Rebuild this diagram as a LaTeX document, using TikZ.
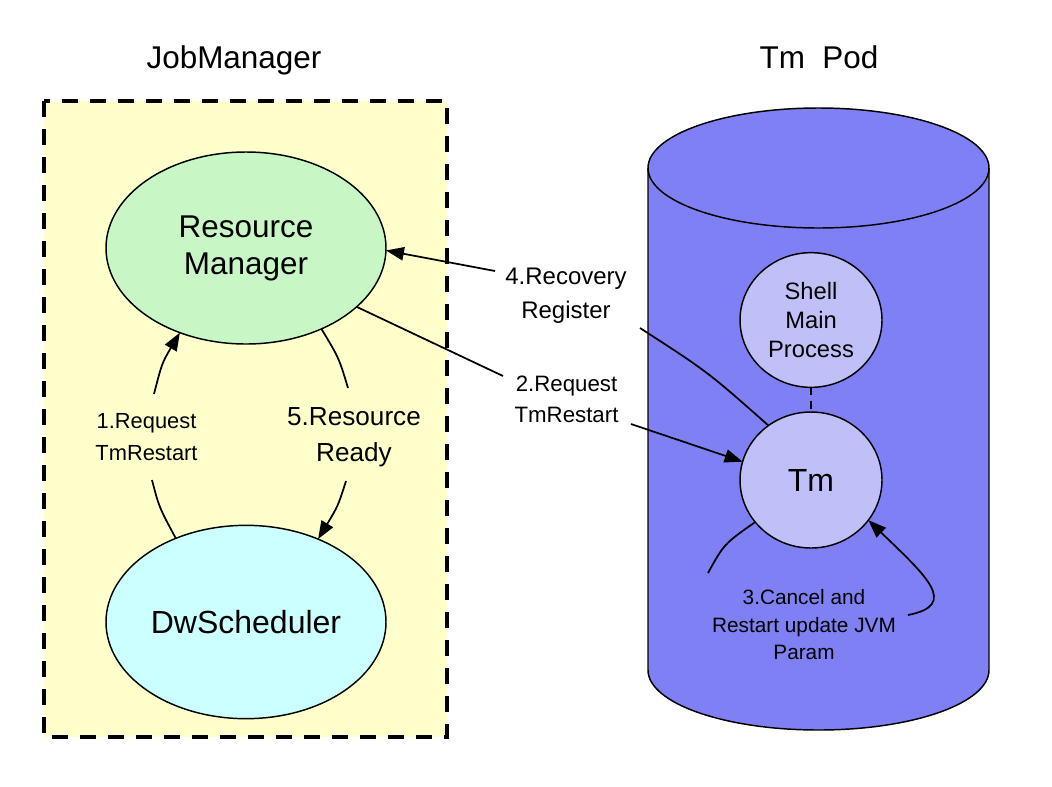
\documentclass[tikz,border=0pt]{standalone}
\usepackage{fontspec}
\setmainfont{Liberation Sans}
\usetikzlibrary{arrows.meta,shapes.geometric}
\definecolor{jmbg}{HTML}{FFFFCC}
\definecolor{rmfill}{HTML}{C8F7C5}
\definecolor{dwfill}{HTML}{CCFFFF}
\definecolor{podfill}{HTML}{8080F5}
\definecolor{procfill}{HTML}{C0C0F8}
\begin{document}
\begin{tikzpicture}[x=0.75pt,y=-0.75pt,
  every node/.style={inner sep=0pt, outer sep=0pt},
  fs/.style 2 args={font=\fontsize{#1pt}{#2pt}\selectfont},
  oval/.style={ellipse, draw, line width=1.1pt},
  link/.style={line width=1.3pt},
  arr/.style={link, -{Triangle[length=13.5pt,width=10pt]}},
  lbl/.style={align=center}]
\useasboundingbox (0,0) rectangle (1052,786);
\fill[white] (0,0) rectangle (1052,786);

% JobManager frame
\draw[fill=jmbg, line width=2.6pt, dash pattern=on 12pt off 9pt] (44,101) rectangle (447,737);
\node[fs={23.6}{28}, anchor=base] (jmt) at (234,68) {JobManager};

% Tm Pod cylinder
\filldraw[fill=podfill, line width=1.1pt] (648,168) -- (648,670)
  arc[start angle=180, end angle=360, x radius=127.875pt, y radius=45pt]
  -- (989,168)
  arc[start angle=0, end angle=180, x radius=127.875pt, y radius=45pt] -- cycle;
\draw[line width=1.1pt] (648,168) arc[start angle=180, end angle=360, x radius=127.875pt, y radius=45pt];
\node[fs={23.6}{28}, anchor=base] (podt) at (819,68) {Tm\ \ Pod};

% nodes
\node[oval, fill=rmfill, minimum width=210pt, minimum height=144pt, fs={23.6}{27.75}, align=center] (rm) at (246,248) {Resource\\Manager};
\node[oval, fill=dwfill, minimum width=210pt, minimum height=145pt, fs={24}{28}] (dw) at (246,622) {DwScheduler};
\node[oval, fill=procfill, minimum width=106.5pt, minimum height=101pt, fs={17.8}{21.75}, align=center] (shell) at (811,320) {Shell\\Main\\Process};
\node[oval, fill=procfill, minimum width=106.5pt, minimum height=102pt, fs={24}{28}] (tm) at (811,480) {Tm};

\draw[line width=1pt, dash pattern=on 6pt off 4pt] (shell) -- (tm);

% labels
\node[lbl, fs={18}{25.5}] (l4) at (566,296) {4.Recovery\\Register};
\node[lbl, fs={16.7}{23.25}] (l2) at (566.5,399.5) {2.Request\\TmRestart};
\node[lbl, fs={16.4}{24}] (l1) at (146.5,437) {1.Request\\TmRestart};
\node[lbl, fs={19.6}{27}] (l5) at (354,437) {5.Resource\\Ready};
\node[lbl, fs={15.6}{20.6}] (l3) at (804,625) {3.Cancel and\\Restart update JVM\\Param};

% connector ends beside the labels
\coordinate (e1a) at (152,480); \coordinate (e1b) at (154,394);
\coordinate (e5a) at (348,388); \coordinate (e5b) at (346,481);
\coordinate (e2a) at (503,376); \coordinate (e2b) at (631,424);
\coordinate (e4a) at (640,328); \coordinate (e4b) at (495,271);
\coordinate (e3a) at (708,573); \coordinate (e3b) at (908,615);

% 1
\draw[link] (dw.130) .. controls (159,507) .. (e1a);
\draw[arr] (e1b) .. controls (162,363) .. (rm.-128);
% 5
\draw[link] (rm.-47) .. controls (339,358) .. (e5a);
\draw[arr] (e5b) .. controls (338,506) .. (dw.49);
% 2
\draw[link] (rm.-28) -- (e2a);
\draw[arr] (e2b) -- (tm.165);
% 4
\draw[link] (tm.128) .. controls (708,372) .. (e4a);
\draw[arr] (e4b) -- (rm.-1);
% 3
\draw[link] (tm.-143) .. controls (724,544) .. (e3a);
\draw[arr] (e3b) .. controls (960,605) and (925,575) .. (tm.-35);
\end{tikzpicture}
\end{document}
